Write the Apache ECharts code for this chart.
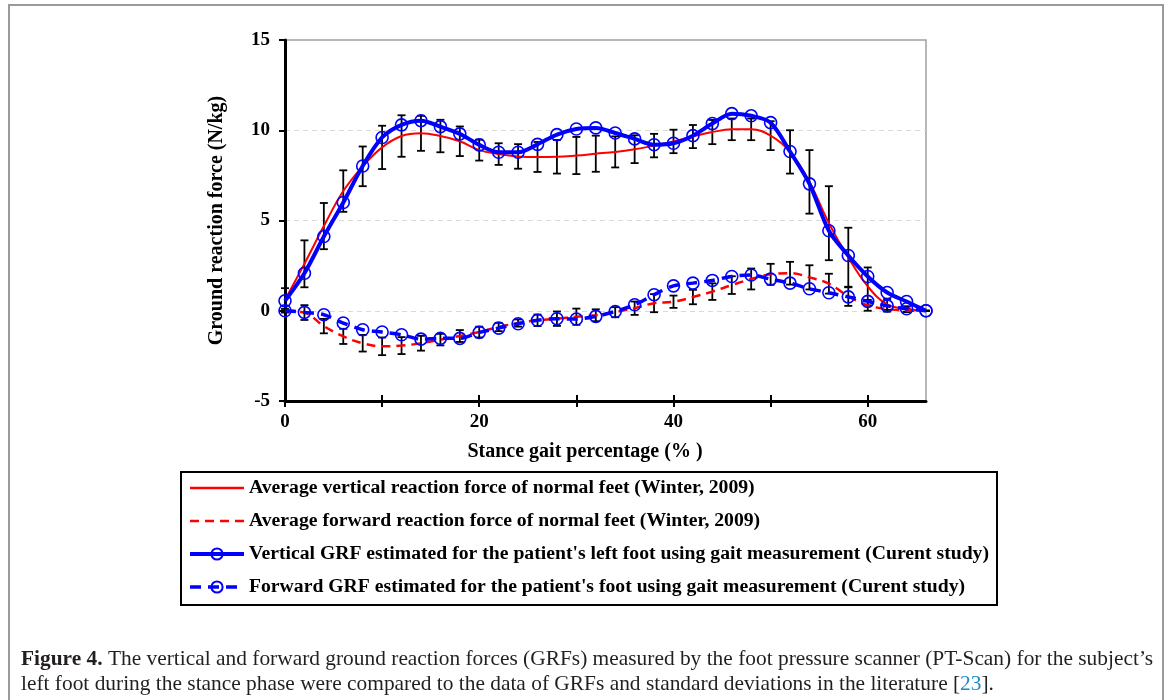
<!DOCTYPE html>
<html>
<head>
<meta charset="utf-8">
<script src="https://cdn.jsdelivr.net/npm/echarts@6/dist/echarts.min.js"></script>
<style>
  html, body { margin: 0; padding: 0; background: #fff; }
  #chart { width: 1168px; height: 700px; }
</style>
</head>
<body>
<div id="chart"></div>
<script>
// Stance gait percentage (%)
const pct = [0, 2, 4, 6, 8, 10, 12, 14, 16, 18, 20, 22, 24, 26, 28, 30, 32,
  34, 36, 38, 40, 42, 44, 46, 48, 50, 52, 54, 56, 58, 60, 62, 64, 66];

// Winter (2009) normal feet, mean and standard deviation (N/kg)
const winterVert = [0.6, 2.6, 4.69, 6.63, 8.0, 9.05, 9.68, 9.83, 9.68, 9.39, 8.9,
  8.68, 8.55, 8.52, 8.53, 8.6, 8.7, 8.8, 8.95, 9.15, 9.38, 9.65, 9.9, 10.05,
  10.05, 9.7, 8.8, 7.14, 4.85, 2.95, 1.35, 0.35, 0.1, 0];
const winterVertSd = [0.65, 1.3, 1.28, 1.15, 1.1, 1.2, 1.15, 0.97, 0.9, 0.82,
  0.58, 0.6, 0.68, 0.83, 0.93, 1.03, 1.0, 0.86, 0.77, 0.65, 0.65, 0.64, 0.67,
  0.6, 0.6, 0.8, 1.2, 1.76, 2.05, 1.65, 1.05, 0.3, 0.15, 0];
const winterFwd = [0, -0.1, -0.85, -1.42, -1.8, -1.97, -1.93, -1.8, -1.6, -1.4,
  -1.18, -0.9, -0.68, -0.53, -0.44, -0.33, -0.25, -0.08, 0.14, 0.42, 0.5, 0.76,
  1.06, 1.42, 1.76, 2.02, 2.08, 1.85, 1.5, 0.8, 0.3, 0.1, 0.02, 0];
const winterFwdSd = [0.1, 0.41, 0.4, 0.42, 0.46, 0.49, 0.47, 0.41, 0.32, 0.33,
  0.3, 0.23, 0.2, 0.32, 0.4, 0.45, 0.33, 0.28, 0.37, 0.5, 0.34, 0.4, 0.46, 0.49,
  0.58, 0.58, 0.63, 0.67, 0.55, 0.53, 0.3, 0.15, 0.1, 0];

// Current study, patient's left foot (N/kg)
const patientVert = [0.55, 2.08, 4.11, 6.0, 8.02, 9.6, 10.3, 10.53, 10.2, 9.8,
  9.19, 8.78, 8.78, 9.22, 9.76, 10.07, 10.13, 9.85, 9.52, 9.2, 9.28, 9.7, 10.37,
  10.92, 10.8, 10.42, 8.82, 7.03, 4.43, 3.06, 1.9, 1.01, 0.51, 0];
const patientFwd = [0, -0.09, -0.22, -0.68, -1.05, -1.18, -1.33, -1.57, -1.53,
  -1.53, -1.2, -0.96, -0.72, -0.53, -0.44, -0.46, -0.31, -0.04, 0.33, 0.89,
  1.38, 1.53, 1.68, 1.9, 1.98, 1.75, 1.53, 1.22, 1.0, 0.77, 0.52, 0.27, 0.11, 0];

const xTicks = [0, 10, 20, 30, 40, 50, 60];
const xLabels = [0, 20, 40, 60];

const seriesNames = [
  "Average vertical reaction force of normal feet (Winter, 2009)",
  "Average forward reaction force of normal feet (Winter, 2009)",
  "Vertical GRF estimated for the patient's left foot using gait measurement (Curent study)",
  "Forward GRF estimated for the patient's foot using gait measurement (Curent study)",
];

const SERIF = "'Liberation Serif', 'Times New Roman', serif";
const RED = "#ff0000";
const BLUE = "#0000ff";

const pairs = (ys) => pct.map((x, i) => [x, ys[i]]);
const bars = (mean, sd) => pct.map((x, i) => [x, mean[i] - sd[i], mean[i] + sd[i]]);

// error bar with caps, drawn through the axes
function renderErrorBar(params, api) {
  const x = api.value(0);
  const lo = api.coord([x, api.value(1)]);
  const hi = api.coord([x, api.value(2)]);
  const cap = 4;
  const style = { stroke: "#000", lineWidth: 1.8 };
  return {
    type: "group",
    children: [
      { type: "line", shape: { x1: lo[0], y1: lo[1], x2: hi[0], y2: hi[1] }, style },
      { type: "line", shape: { x1: hi[0] - cap, y1: hi[1], x2: hi[0] + cap, y2: hi[1] }, style },
      { type: "line", shape: { x1: lo[0] - cap, y1: lo[1], x2: lo[0] + cap, y2: lo[1] }, style },
    ],
  };
}

const chart = echarts.init(document.getElementById("chart"), null, { renderer: "canvas" });

const option = {
  animation: false,
  backgroundColor: "#fff",
  textStyle: { fontFamily: SERIF },
  grid: {
    left: 285,
    right: 242,
    top: 40,
    bottom: 299,
    show: true,
    borderColor: "#a0a0a0",
    borderWidth: 1.5,
    backgroundColor: "transparent",
  },
  xAxis: [
    {
      type: "value",
      min: 0,
      max: 66,
      interval: 10,
      axisLine: { onZero: false, lineStyle: { color: "#000", width: 3 } },
      axisTick: { length: 6, lineStyle: { color: "#000", width: 2 }, customValues: xTicks },
      axisLabel: {
        customValues: xLabels,
        color: "#000",
        fontFamily: SERIF,
        fontWeight: "bold",
        fontSize: 19,
        margin: 12,
      },
      splitLine: { show: false },
    },
    {
      type: "value",
      min: 0,
      max: 66,
      interval: 10,
      position: "bottom",
      axisLine: { show: false, onZero: false },
      axisTick: { inside: true, length: 6, lineStyle: { color: "#000", width: 2 }, customValues: xTicks },
      axisLabel: { show: false },
      splitLine: { show: false },
    },
  ],
  yAxis: {
    type: "value",
    min: -5,
    max: 15,
    interval: 5,
    name: "Ground reaction force (N/kg)",
    nameLocation: "middle",
    nameGap: 58,
    nameTextStyle: { color: "#000", fontFamily: SERIF, fontWeight: "bold", fontSize: 20 },
    axisLine: { show: true, onZero: false, lineStyle: { color: "#000", width: 3 } },
    axisTick: { show: true, length: 6, lineStyle: { color: "#000", width: 2 } },
    axisLabel: { color: "#000", fontFamily: SERIF, fontWeight: "bold", fontSize: 19, margin: 15 },
    splitLine: {
      show: true,
      showMinLine: false,
      showMaxLine: false,
      lineStyle: { color: "#d9d9d9", type: [5, 4], width: 1 },
    },
  },
  legend: {
    data: [
      { name: seriesNames[0], itemStyle: { opacity: 0 }, lineStyle: { width: 2.5 } },
      { name: seriesNames[1], itemStyle: { opacity: 0 }, lineStyle: { width: 2.5 } },
      { name: seriesNames[2], lineStyle: { width: 4 } },
      { name: seriesNames[3], lineStyle: { width: 3.5 } },
    ],
    orient: "vertical",
    left: 181,
    top: 472,
    borderColor: "#000",
    borderWidth: 2,
    padding: [6, 8, 8, 7],
    itemGap: 13,
    itemWidth: 54,
    itemHeight: 14,
    textStyle: { color: "#000", fontFamily: SERIF, fontWeight: "bold", fontSize: 19.7, lineHeight: 20 },
  },
  graphic: [
    {
      type: "rect",
      silent: true,
      shape: { x: 9, y: 5, width: 1154, height: 720 },
      style: { fill: "none", stroke: "#9a9a9a", lineWidth: 2 },
    },
    {
      type: "text",
      silent: true,
      x: 585,
      y: 452,
      style: {
        text: "Stance gait percentage (% )",
        fill: "#000",
        font: "bold 20px " + SERIF,
        align: "center",
        verticalAlign: "middle",
      },
    },
    {
      type: "text",
      silent: true,
      x: 21,
      y: 647,
      style: {
        text: "{b|Figure 4.} The vertical and forward ground reaction forces (GRFs) measured by the foot pressure scanner (PT-Scan) for the subject\u2019s\nleft foot during the stance phase were compared to the data of GRFs and standard deviations in the literature [{ref|23}].",
        fill: "#231f20",
        font: "21.4px " + SERIF,
        lineHeight: 25,
        rich: {
          b: { font: "bold 21.4px " + SERIF, fill: "#231f20" },
          ref: { font: "21.4px " + SERIF, fill: "#1a8acb" },
        },
      },
    },
  ],
  series: [
    {
      name: "Winter vertical SD",
      type: "custom",
      renderItem: renderErrorBar,
      encode: { x: 0, y: [1, 2] },
      data: bars(winterVert, winterVertSd),
      z: 1,
      silent: true,
    },
    {
      name: "Winter forward SD",
      type: "custom",
      renderItem: renderErrorBar,
      encode: { x: 0, y: [1, 2] },
      data: bars(winterFwd, winterFwdSd),
      z: 1,
      silent: true,
    },
    {
      name: seriesNames[0],
      type: "line",
      data: pairs(winterVert),
      smooth: 0.4,
      showSymbol: false,
      symbol: "none",
      color: RED,
      lineStyle: { color: RED, width: 2 },
      z: 2,
    },
    {
      name: seriesNames[1],
      type: "line",
      data: pairs(winterFwd),
      smooth: 0.4,
      showSymbol: false,
      symbol: "none",
      color: RED,
      lineStyle: { color: RED, width: 2.5, type: [9, 6] },
      z: 2,
    },
    {
      name: seriesNames[2],
      type: "line",
      data: pairs(patientVert),
      smooth: 0.3,
      symbol: "circle",
      symbolSize: 12,
      color: BLUE,
      itemStyle: { color: "transparent", borderColor: BLUE, borderWidth: 1.6 },
      lineStyle: { color: BLUE, width: 4 },
      z: 3,
    },
    {
      name: seriesNames[3],
      type: "line",
      data: pairs(patientFwd),
      smooth: 0.3,
      symbol: "circle",
      symbolSize: 12,
      color: BLUE,
      itemStyle: { color: "transparent", borderColor: BLUE, borderWidth: 1.6 },
      lineStyle: { color: BLUE, width: 3.5, type: [11, 7] },
      z: 3,
    },
  ],
};

chart.setOption(option);
</script>
</body>
</html>
